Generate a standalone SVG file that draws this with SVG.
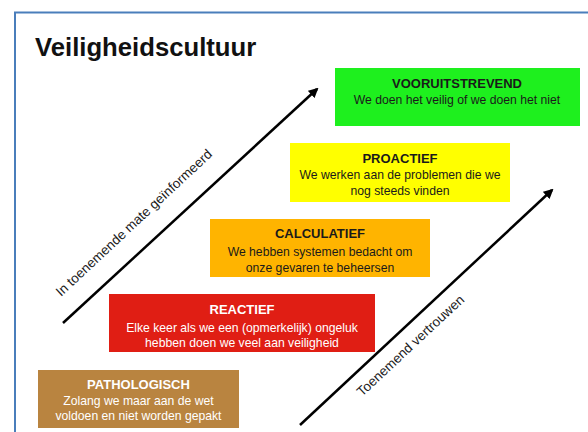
<svg xmlns="http://www.w3.org/2000/svg" width="588" height="432" viewBox="0 0 588 432">
<style>
.t{font-family:"Liberation Sans",Arial,sans-serif;font-weight:bold;font-size:13px;text-anchor:middle}
.s{font-family:"Liberation Sans",Arial,sans-serif;font-size:12.2px;text-anchor:middle}
.d{fill:#1a1a1a}
.w{fill:#ffffff}
.ax{font-family:"Liberation Sans",Arial,sans-serif;font-size:13.5px;fill:#1a1a1a}
.ln{stroke:#000;stroke-width:2.5;fill:none;marker-end:url(#ah)}
</style>
<defs>
<marker id="ah" viewBox="0 0 10 10" refX="8" refY="5" markerWidth="4" markerHeight="4" orient="auto" markerUnits="strokeWidth">
<path d="M0,0 L10,5 L0,10 z" fill="#000"/>
</marker>
</defs>
<rect width="588" height="432" fill="#fff"/>
<path d="M15,432 V12.5 H588" fill="none" stroke="#4a7ebb" stroke-width="2"/>
<text x="35" y="56" font-family="Liberation Sans,Arial,sans-serif" font-weight="bold" font-size="25.7" fill="#111">Veiligheidscultuur</text>

<g id="connectors">
<line class="ln" x1="63" y1="323" x2="317" y2="89"/>
<line class="ln" x1="300" y1="425" x2="552" y2="190"/>
<text class="ax" transform="translate(61,297) rotate(-43)">In toenemende mate geïnformeerd</text>
<text class="ax" transform="translate(362,397) rotate(-43)">Toenemend vertrouwen</text>
</g>

<g id="vooruitstrevend">
<rect x="335" y="68" width="245" height="58" fill="#1ef01e"/>
<text class="t d" x="457" y="88">VOORUITSTREVEND</text>
<text class="s d" x="457" y="104">We doen het veilig of we doen het niet</text>
</g>

<g id="proactief">
<rect x="290" y="143" width="220" height="59" fill="#ffff00"/>
<text class="t d" x="400" y="163">PROACTIEF</text>
<text class="s d" x="400" y="179">We werken aan de problemen die we</text>
<text class="s d" x="400" y="195">nog steeds vinden</text>
</g>

<g id="calculatief">
<rect x="210" y="219" width="220" height="58" fill="#ffb400"/>
<text class="t d" x="320" y="238">CALCULATIEF</text>
<text class="s d" x="320" y="256">We hebben systemen bedacht om</text>
<text class="s d" x="320" y="272">onze gevaren te beheersen</text>
</g>

<g id="reactief">
<rect x="109" y="294" width="266" height="58" fill="#e01e14"/>
<text class="t w" x="242" y="314">REACTIEF</text>
<text class="s w" x="242" y="332">Elke keer als we een (opmerkelijk) ongeluk</text>
<text class="s w" x="242" y="347">hebben doen we veel aan veiligheid</text>
</g>

<g id="pathologisch">
<rect x="38" y="370" width="201" height="58" fill="#b98440"/>
<text class="t w" x="138.5" y="389">PATHOLOGISCH</text>
<text class="s w" x="138.5" y="405">Zolang we maar aan de wet</text>
<text class="s w" x="138.5" y="420">voldoen en niet worden gepakt</text>
</g>
</svg>
